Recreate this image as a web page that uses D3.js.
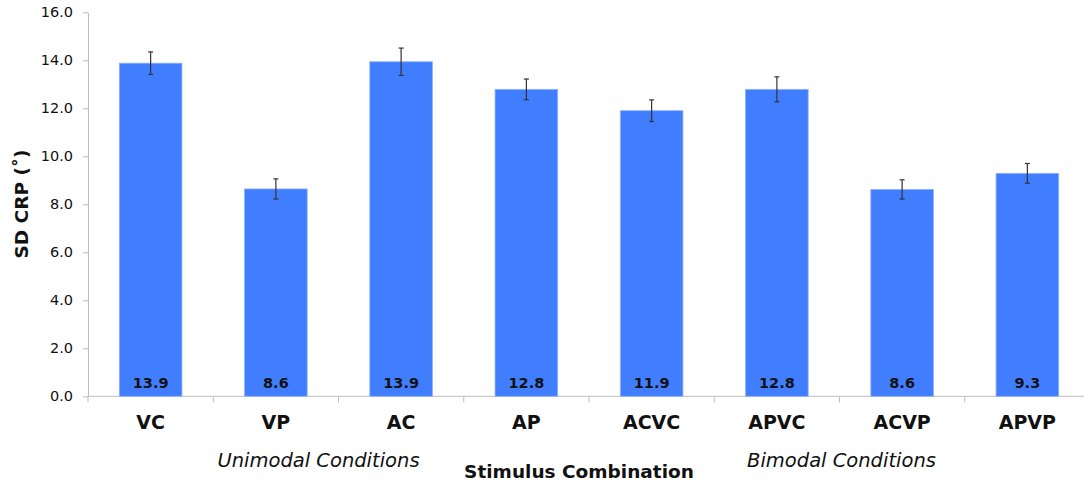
<!DOCTYPE html>
<html>
<head>
<meta charset="utf-8">
<script src="https://cdn.jsdelivr.net/npm/d3@7"></script>
<style>
  body { margin: 0; background: #fff; }
  svg { display: block; font-family: "DejaVu Sans", sans-serif; }
</style>
</head>
<body>
<svg id="chart" width="1084" height="484"></svg>
<script>
// Stimulus conditions and their SD CRP values
const categories = ["VC", "VP", "AC", "AP", "ACVC", "APVC", "ACVP", "APVP"];
const means = [13.88, 8.64, 13.94, 12.79, 11.9, 12.79, 8.62, 9.29];
const errors = [0.47, 0.42, 0.57, 0.43, 0.45, 0.52, 0.4, 0.41];
const yTicks = [0, 2, 4, 6, 8, 10, 12, 14, 16];

const data = categories.map((c, i) => ({ cat: c, value: means[i], err: errors[i] }));

const svg = d3.select("#chart");

const x = d3.scaleBand()
  .domain(categories)
  .range([88, 1090])
  .paddingInner(0.5)
  .paddingOuter(0.25);

const y = d3.scaleLinear()
  .domain([0, 16])
  .range([396.3, 12.3]);

const axisColor = "#bdbdbd";

// y axis
const yAxis = svg.append("g")
  .attr("transform", "translate(88,0)")
  .call(d3.axisLeft(y).tickValues(yTicks).tickFormat(d3.format(".1f")).tickSize(5).tickSizeOuter(0));
yAxis.select(".domain").attr("stroke", axisColor);
yAxis.selectAll(".tick line").attr("stroke", axisColor);
yAxis.selectAll(".tick text")
  .attr("x", -15)
  .style("font-family", "DejaVu Sans, sans-serif")
  .style("font-size", "14.5px")
  .attr("fill", "#111");

// x axis line + boundary ticks
svg.append("line")
  .attr("x1", 88).attr("x2", 1084)
  .attr("y1", y(0)).attr("y2", y(0))
  .attr("stroke", axisColor);

const bounds = d3.range(categories.length + 1).map(i => x.range()[0] + i * x.step());
svg.selectAll(".xtick")
  .data(bounds)
  .join("line")
  .attr("class", "xtick")
  .attr("x1", d => d).attr("x2", d => d)
  .attr("y1", y(0)).attr("y2", y(0) + 6)
  .attr("stroke", axisColor);

// bars
svg.selectAll(".bar")
  .data(data)
  .join("rect")
  .attr("class", "bar")
  .attr("x", d => x(d.cat))
  .attr("y", d => y(d.value))
  .attr("width", x.bandwidth())
  .attr("height", d => y(0) - y(d.value))
  .attr("fill", "#417EFF")
  .attr("stroke", "#8fb2ff")
  .attr("stroke-width", 0.8);

// error bars
const eb = svg.selectAll(".err")
  .data(data)
  .join("g")
  .attr("class", "err")
  .attr("stroke", "#333")
  .attr("stroke-width", 1.2);

eb.append("line")
  .attr("x1", d => x(d.cat) + x.bandwidth() / 2)
  .attr("x2", d => x(d.cat) + x.bandwidth() / 2)
  .attr("y1", d => y(d.value + d.err))
  .attr("y2", d => y(d.value - d.err));
eb.append("line")
  .attr("x1", d => x(d.cat) + x.bandwidth() / 2 - 2.5)
  .attr("x2", d => x(d.cat) + x.bandwidth() / 2 + 2.5)
  .attr("y1", d => y(d.value + d.err))
  .attr("y2", d => y(d.value + d.err));
eb.append("line")
  .attr("x1", d => x(d.cat) + x.bandwidth() / 2 - 2.5)
  .attr("x2", d => x(d.cat) + x.bandwidth() / 2 + 2.5)
  .attr("y1", d => y(d.value - d.err))
  .attr("y2", d => y(d.value - d.err));

// value labels inside bars
svg.selectAll(".val")
  .data(data)
  .join("text")
  .attr("class", "val")
  .attr("x", d => x(d.cat) + x.bandwidth() / 2)
  .attr("y", 387.5)
  .attr("text-anchor", "middle")
  .style("font-size", "14.5px")
  .style("font-weight", "bold")
  .attr("fill", "#111")
  .text(d => d.value.toFixed(1));

// category labels
svg.selectAll(".cat")
  .data(data)
  .join("text")
  .attr("class", "cat")
  .attr("x", d => x(d.cat) + x.bandwidth() / 2)
  .attr("y", 429)
  .attr("text-anchor", "middle")
  .style("font-size", "19px")
  .style("font-weight", "bold")
  .attr("fill", "#111")
  .text(d => d.cat);

// group labels
const mid = (a, b) => (x(a) + x(b) + x.bandwidth()) / 2;
svg.append("text")
  .attr("x", mid("VP", "AC") - 20)
  .attr("y", 467)
  .attr("text-anchor", "middle")
  .style("font-size", "19.5px")
  .style("font-style", "italic")
  .attr("fill", "#111")
  .text("Unimodal Conditions");
svg.append("text")
  .attr("x", mid("APVC", "ACVP") + 2)
  .attr("y", 467)
  .attr("text-anchor", "middle")
  .style("font-size", "19.5px")
  .style("font-style", "italic")
  .attr("fill", "#111")
  .text("Bimodal Conditions");

// axis titles
svg.append("text")
  .attr("x", 579)
  .attr("y", 478)
  .attr("text-anchor", "middle")
  .style("font-size", "18.5px")
  .style("font-weight", "bold")
  .attr("fill", "#111")
  .text("Stimulus Combination");

svg.append("text")
  .attr("transform", "translate(28,204) rotate(-90)")
  .attr("text-anchor", "middle")
  .style("font-size", "18.5px")
  .style("font-weight", "bold")
  .attr("fill", "#111")
  .text("SD CRP (˚)");
</script>
</body>
</html>
